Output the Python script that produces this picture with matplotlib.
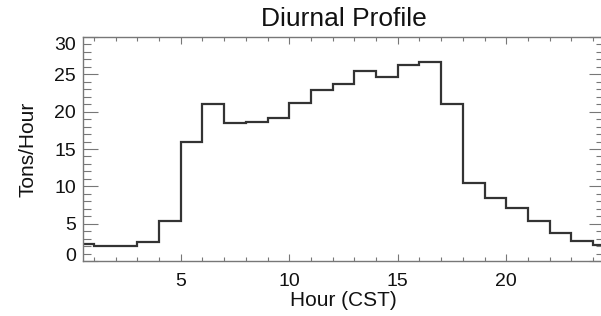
import numpy as np
import matplotlib.pyplot as plt
from matplotlib.ticker import MultipleLocator

# hourly emission rate, one value per hour bin starting at hour 0
hours = list(range(25))
tons_per_hour = [2.3, 2.0, 2.0, 2.6, 5.4, 15.9, 21.0, 18.5, 18.6, 19.2,
                 21.2, 22.9, 23.7, 25.5, 24.6, 26.3, 26.6, 21.0, 10.5, 8.4,
                 7.05, 5.4, 3.8, 2.7, 2.1]
x_ticks = [5, 10, 15, 20]
y_ticks = [0, 5, 10, 15, 20, 25, 30]

plt.rcParams['font.family'] = ['Liberation Sans', 'DejaVu Sans']

fig = plt.figure(figsize=(6.01, 3.16), dpi=100)
ax = fig.add_axes([83 / 601, 55 / 316, 521 / 601, 224 / 316])

edges = np.append(hours, hours[-1] + 1)
ax.stairs(tons_per_hour, edges, color='#333333', linewidth=1.6, baseline=None)

ax.set_xlim(0.5, 24.5)
ax.set_ylim(0, 30)
ax.set_xticks(x_ticks)
ax.set_yticks(y_ticks)
ax.xaxis.set_minor_locator(MultipleLocator(1))
ax.yaxis.set_minor_locator(MultipleLocator(1))

for s in ax.spines.values():
    s.set_color('#777777')
    s.set_linewidth(1.0)

ax.tick_params(axis='both', which='both', direction='in', top=True, right=True,
               color='#777777', width=0.8, labelsize=14, labelcolor='#111111')
ax.tick_params(axis='x', which='major', length=5, pad=9)
ax.tick_params(axis='x', which='minor', length=3)
ax.tick_params(axis='y', which='major', length=11, pad=5)
ax.tick_params(axis='y', which='minor', length=6)

# end labels sit inside the axis range, as in the original
fig.canvas.draw()
ylabels = ax.get_yticklabels()
ylabels[0].set_verticalalignment('baseline')
ylabels[-1].set_verticalalignment('top')

ax.set_title('Diurnal Profile', fontsize=19, color='#111111', pad=8)
ax.set_xlabel('Hour (CST)', fontsize=15, color='#111111', labelpad=0)
ax.set_ylabel('Tons/Hour', fontsize=15, color='#111111', labelpad=12)

fig.savefig('out.png', dpi=100)
